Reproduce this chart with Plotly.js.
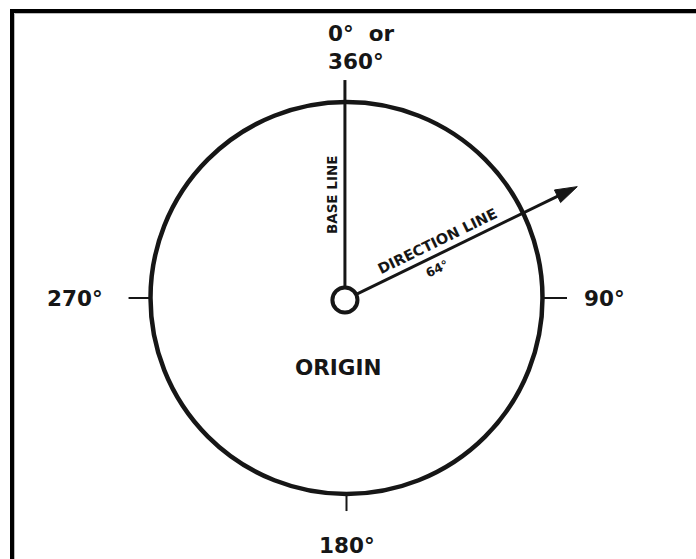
<!DOCTYPE html>
<html>
<head>
<meta charset="utf-8">
<script src="https://cdn.plot.ly/plotly-3.0.1.min.js"></script>
<style>html,body{margin:0;padding:0;background:#fff;}#chart{width:696px;height:559px;}</style>
</head>
<body>
<div id="chart"></div>
<script>
// ---- data ----
const cardinalAngles = [0, 90, 180, 270];
const cardinalLabels = ['0°  or<br>360°', '90°', '180°', '270°'];
const directionAngle = 64;
const directionLabel = 'DIRECTION LINE';
const directionValueLabel = '64°';
const baseLabel = 'BASE LINE';
const originLabel = 'ORIGIN';

// ---- style / geometry constants (units: circle radius = 1) ----
const PX = 196;                 // pixels per unit
const CX = 346.5, CY = 298;     // pixel centre of the circle
const W = 696, H = 559;
const labelRadius = [1.276, 1.318, 1.262, 1.385];
const tickOuter = [null, 1.125, 1.087, 1.112];
const ink = '#161616';
const FONT = 'DejaVu Sans';
const origin = {x: -0.008, y: -0.01, r: 0.064};
const baseTop = 1.112;
const arrowLen = 1.319;

function pol(a, r, o) {
  const t = a * Math.PI / 180;
  o = o || {x: 0, y: 0};
  return {x: o.x + r * Math.sin(t), y: o.y + r * Math.cos(t)};
}

const shapes = [];
const annotations = [];

// frame (top and left edges)
shapes.push({type: 'line', xref: 'paper', yref: 'paper', x0: 10 / W, x1: 1, y0: 1 - 11 / H, y1: 1 - 11 / H,
  line: {color: '#000', width: 4}});
shapes.push({type: 'line', xref: 'paper', yref: 'paper', x0: 12 / W, x1: 12 / W, y0: 1 - 9 / H, y1: 0,
  line: {color: '#000', width: 4}});
shapes.push({type: 'line', xref: 'paper', yref: 'paper', x0: 14.5 / W, x1: 1, y0: 1 - 13.5 / H, y1: 1 - 13.5 / H,
  line: {color: '#bbb', width: 1}});
shapes.push({type: 'line', xref: 'paper', yref: 'paper', x0: 14.5 / W, x1: 14.5 / W, y0: 1 - 13.5 / H, y1: 0,
  line: {color: '#bbb', width: 1}});

// main circle
shapes.push({type: 'circle', xref: 'x', yref: 'y', x0: -1, y0: -1, x1: 1, y1: 1,
  line: {color: ink, width: 4.5}});

// cardinal ticks and labels
cardinalAngles.forEach((a, i) => {
  if (tickOuter[i] !== null) {
    const p0 = pol(a, 1), p1 = pol(a, tickOuter[i]);
    shapes.push({type: 'line', xref: 'x', yref: 'y', x0: p0.x, y0: p0.y, x1: p1.x, y1: p1.y,
      line: {color: ink, width: 2}});
  }
  const lp = pol(a, labelRadius[i]);
  const ann = {x: lp.x, y: lp.y, xref: 'x', yref: 'y', text: cardinalLabels[i], showarrow: false,
    font: {family: FONT, size: 21.5, color: ink, weight: 700}, xanchor: 'center', yanchor: 'middle'};
  if (a === 0) { ann.x = -0.105; ann.xanchor = 'left'; ann.align = 'left'; }
  annotations.push(ann);
});

// origin circle
shapes.push({type: 'circle', xref: 'x', yref: 'y',
  x0: origin.x - origin.r, y0: origin.y - origin.r, x1: origin.x + origin.r, y1: origin.y + origin.r,
  line: {color: ink, width: 4}});

// base line
shapes.push({type: 'line', xref: 'x', yref: 'y', x0: origin.x, x1: origin.x, y0: origin.y + origin.r, y1: baseTop,
  line: {color: ink, width: 3}});

// direction line + arrowhead
const dStart = pol(directionAngle, origin.r, origin);
const tip = pol(directionAngle, arrowLen, origin);
const headLen = 22 / PX, headHalf = 7 / PX;
const headBase = pol(directionAngle, arrowLen - headLen, origin);
const nx = Math.cos(directionAngle * Math.PI / 180), ny = -Math.sin(directionAngle * Math.PI / 180);
shapes.push({type: 'line', xref: 'x', yref: 'y', x0: dStart.x, y0: dStart.y, x1: headBase.x + (tip.x - headBase.x) * 0.3, y1: headBase.y + (tip.y - headBase.y) * 0.3,
  line: {color: ink, width: 3}});
shapes.push({type: 'path', xref: 'x', yref: 'y',
  path: `M${tip.x},${tip.y} L${headBase.x + nx * headHalf},${headBase.y + ny * headHalf} L${headBase.x - nx * headHalf},${headBase.y - ny * headHalf} Z`,
  fillcolor: ink, line: {color: ink, width: 1}});

// direction labels
const textAng = -(90 - directionAngle);
const perpX = -nx, perpY = -ny; // unit normal pointing up-left
const dl = pol(directionAngle, 0.558, origin);
annotations.push({x: dl.x + perpX * 0.064, y: dl.y + perpY * 0.064, xref: 'x', yref: 'y', text: directionLabel,
  showarrow: false, textangle: textAng, font: {family: FONT, size: 14.5, color: ink, weight: 700}});
const vl = pol(directionAngle, 0.494, origin);
annotations.push({x: vl.x - perpX * 0.06, y: vl.y - perpY * 0.06, xref: 'x', yref: 'y', text: directionValueLabel,
  showarrow: false, textangle: textAng, font: {family: FONT, size: 12.5, color: ink, weight: 700}});

// base line label
annotations.push({x: -0.074, y: 0.525, xref: 'x', yref: 'y', text: baseLabel, showarrow: false, textangle: -90,
  font: {family: FONT, size: 13.5, color: ink, weight: 700}});

// origin label
annotations.push({x: -0.043, y: -0.357, xref: 'x', yref: 'y', text: originLabel, showarrow: false,
  font: {family: FONT, size: 21.5, color: ink, weight: 700}});

const layout = {
  width: W, height: H,
  margin: {l: 0, r: 0, t: 0, b: 0},
  paper_bgcolor: '#fff', plot_bgcolor: '#fff',
  showlegend: false,
  xaxis: {range: [-CX / PX, (W - CX) / PX], visible: false, fixedrange: true},
  yaxis: {range: [-(H - CY) / PX, CY / PX], visible: false, fixedrange: true},
  shapes: shapes,
  annotations: annotations
};

Plotly.newPlot('chart', [{x: [], y: [], type: 'scatter', mode: 'markers', hoverinfo: 'skip'}], layout,
  {staticPlot: true, displayModeBar: false});
</script>
</body>
</html>
